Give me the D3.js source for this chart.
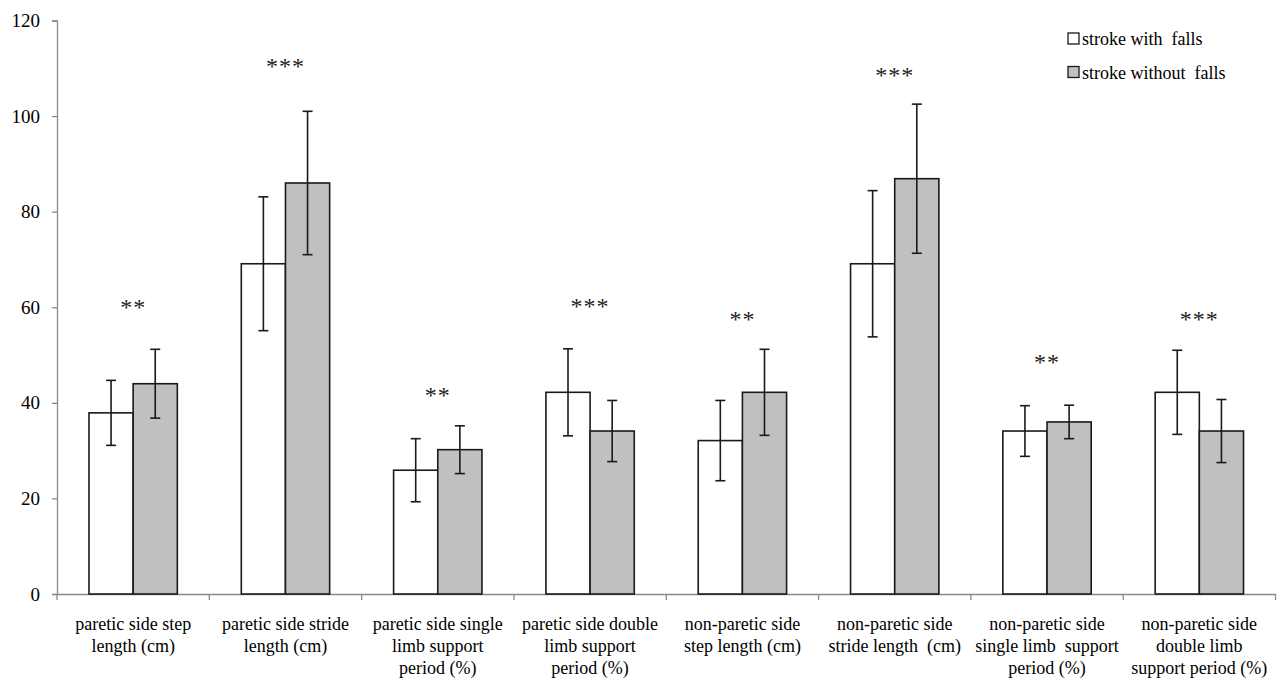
<!DOCTYPE html>
<html><head><meta charset="utf-8">
<script src="https://cdn.jsdelivr.net/npm/d3@7"></script>
<style>body{margin:0;background:#fff}svg{display:block}text{white-space:pre}</style>
</head><body>
<svg id="chart" width="1279" height="682"></svg>
<script>
const categories = [
  ["paretic side step", "length (cm)"],
  ["paretic side stride", "length (cm)"],
  ["paretic side single", "limb support", "period (%)"],
  ["paretic side double", "limb support", "period (%)"],
  ["non-paretic side", "step length (cm)"],
  ["non-paretic side", "stride length  (cm)"],
  ["non-paretic side", "single limb  support", "period (%)"],
  ["non-paretic side", "double limb", "support period (%)"]
];
const seriesNames = ["stroke with  falls", "stroke without  falls"];
const withFalls = [37.9, 69.1, 25.9, 42.2, 32.1, 69.1, 34.1, 42.2];
const withFallsErr = [6.8, 14.0, 6.6, 9.1, 8.4, 15.3, 5.3, 8.8];
const withoutFalls = [44.0, 86.0, 30.2, 34.1, 42.2, 86.9, 36.0, 34.1];
const withoutFallsErr = [7.2, 15.0, 5.0, 6.4, 9.0, 15.6, 3.5, 6.6];
const stars = ["**", "***", "**", "***", "**", "***", "**", "***"];
const starLevel = [60.8, 111.2, 42.3, 61.0, 58.3, 109.2, 49.3, 58.3];
const yTicks = [0, 20, 40, 60, 80, 100, 120];

const fills = ["#ffffff", "#c0c0c0"];
const font = "'Liberation Serif', 'DejaVu Serif', serif";
const svg = d3.select("#chart");
const idx = d3.range(categories.length);

const x = d3.scaleBand().domain(idx).range([57, 1275.5]).padding(0);
const bw = x.bandwidth();
const x1 = d3.scaleBand().domain([0, 1]).range([bw * 0.21, bw * 0.79]).padding(0);
const y = d3.scaleLinear().domain([0, 120]).range([594, 20.5]);

// axes
const yAxis = svg.append("g").attr("transform", "translate(57,0)")
  .call(d3.axisLeft(y).tickValues(yTicks).tickSize(5).tickPadding(12));
yAxis.selectAll("path,line").attr("stroke", "#8a8a8a").attr("stroke-width", 1.3);
yAxis.selectAll("text").attr("font-family", font).attr("font-size", 19).attr("fill", "#000");

const xAxis = svg.append("g").attr("transform", "translate(0,594)")
  .call(d3.axisBottom(x).tickValues([]).tickSizeOuter(0));
xAxis.selectAll("path").attr("stroke", "#8a8a8a").attr("stroke-width", 1.3);
svg.append("g").selectAll("line").data(d3.range(categories.length + 1)).join("line")
  .attr("x1", i => 57 + i * bw).attr("x2", i => 57 + i * bw)
  .attr("y1", 594).attr("y2", 600).attr("stroke", "#8a8a8a").attr("stroke-width", 1.3);

// bars
const series = [
  {vals: withFalls, errs: withFallsErr},
  {vals: withoutFalls, errs: withoutFallsErr}
];
series.forEach((s, si) => {
  const g = svg.append("g");
  g.selectAll("rect").data(idx).join("rect")
    .attr("x", i => x(i) + x1(si))
    .attr("y", i => y(s.vals[i]))
    .attr("width", x1.bandwidth())
    .attr("height", i => y(0) - y(s.vals[i]))
    .attr("fill", fills[si]).attr("stroke", "#1a1a1a").attr("stroke-width", 1.6);
});
series.forEach((s, si) => {
  const g = svg.append("g").attr("stroke", "#1a1a1a").attr("stroke-width", 1.6);
  idx.forEach(i => {
    const cx = x(i) + x1(si) + x1.bandwidth() / 2;
    const hi = y(s.vals[i] + s.errs[i]), lo = y(s.vals[i] - s.errs[i]);
    g.append("line").attr("x1", cx).attr("x2", cx).attr("y1", hi).attr("y2", lo);
    g.append("line").attr("x1", cx - 5).attr("x2", cx + 5).attr("y1", hi).attr("y2", hi);
    g.append("line").attr("x1", cx - 5).attr("x2", cx + 5).attr("y1", lo).attr("y2", lo);
  });
});

// significance stars
const sfs = 24;
svg.append("g").selectAll("text").data(idx).join("text")
  .attr("x", i => x(i) + bw / 2)
  .attr("y", i => y(starLevel[i]) + sfs * 0.47)
  .attr("text-anchor", "middle")
  .attr("font-family", font).attr("font-size", sfs).attr("fill", "#222")
  .attr("letter-spacing", 1)
  .text(i => stars[i]);

// category labels
const lab = svg.append("g");
idx.forEach(i => {
  const t = lab.append("text").attr("text-anchor", "middle")
    .attr("font-family", font).attr("font-size", 18).attr("fill", "#000");
  categories[i].forEach((line, li) => {
    t.append("tspan").attr("x", x(i) + bw / 2).attr("y", 630 + li * 22).text(line);
  });
});

// legend
const leg = svg.append("g");
seriesNames.forEach((n, si) => {
  const ly = 39 + si * 33.5;
  leg.append("rect").attr("x", 1068).attr("y", ly - 6).attr("width", 11).attr("height", 11)
    .attr("fill", fills[si]).attr("stroke", "#1a1a1a").attr("stroke-width", 1.3);
  leg.append("text").attr("x", 1082).attr("y", ly + 6)
    .attr("font-family", font).attr("font-size", 18).attr("fill", "#000").text(n);
});
</script>
</body></html>
